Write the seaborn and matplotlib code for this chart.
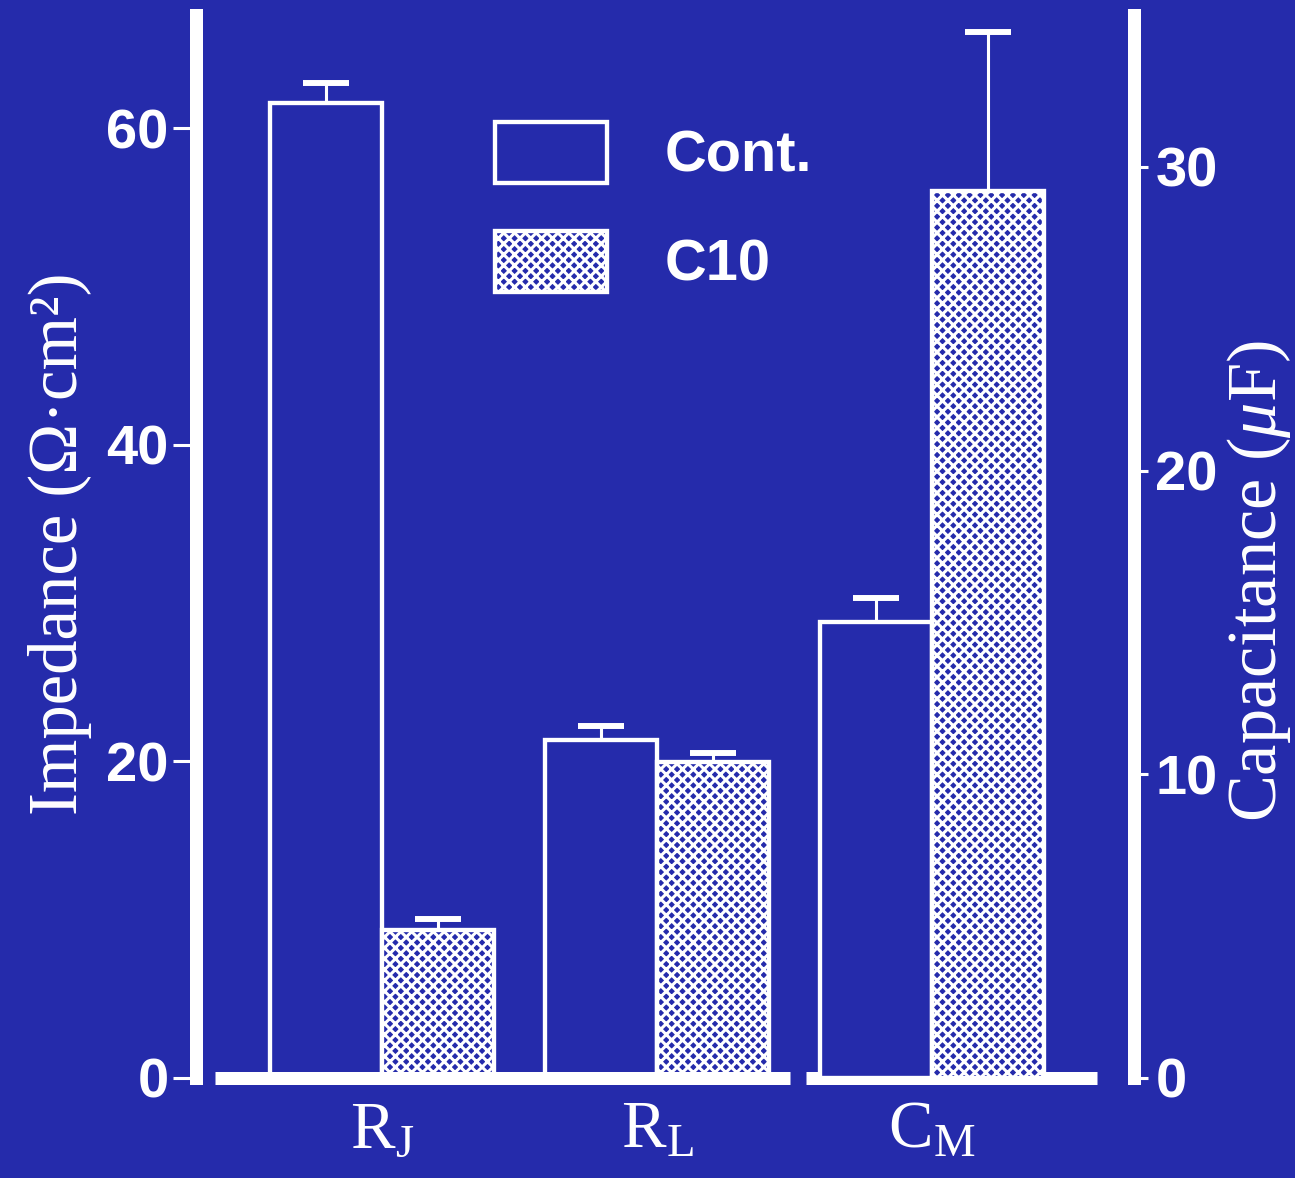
import numpy as np
import pandas as pd
import matplotlib
matplotlib.use("Agg")
import matplotlib.pyplot as plt
import matplotlib.patches as mpatches
import seaborn as sns

# ---- data -------------------------------------------------------------
parameters = ["RJ", "RL", "CM"]
parameter_labels = [r"$\mathrm{R_J}$", r"$\mathrm{R_L}$", r"$\mathrm{C_M}$"]
treatments = ["Cont.", "C10"]

# impedance (ohm*cm^2), left axis
impedance_params = ["RJ", "RL"]
impedance_cont = [61.6, 21.35]
impedance_cont_err = [1.25, 0.9]
impedance_c10 = [9.35, 19.95]
impedance_c10_err = [0.7, 0.6]

# capacitance (uF), right axis
capacitance_params = ["CM"]
capacitance_cont = [15.0]
capacitance_cont_err = [0.82]
capacitance_c10 = [29.2]
capacitance_c10_err = [5.25]

left_ticks = [0, 20, 40, 60]
right_ticks = [0, 10, 20, 30]

# ---- style ------------------------------------------------------------
BG = "#252bab"
FG = "white"
DPI = 130
C10_HATCH = "xxxx"

sns.set_theme(style="white")
plt.rcParams.update({
    "font.family": ["Liberation Sans", "DejaVu Sans"],
    "mathtext.fontset": "custom",
    "mathtext.rm": "Liberation Serif",
    "mathtext.it": "Liberation Serif:italic",
    "mathtext.bf": "Liberation Serif:bold",
    "hatch.linewidth": 1.7,
    "figure.facecolor": BG,
    "axes.facecolor": BG,
    "savefig.facecolor": BG,
    "text.color": FG,
    "axes.labelcolor": FG,
    "axes.edgecolor": FG,
    "xtick.color": FG,
    "ytick.color": FG,
})


def frame(params, cont, cont_err, c10, c10_err):
    return pd.DataFrame({
        "parameter": list(params) * 2,
        "treatment": ["Cont."] * len(params) + ["C10"] * len(params),
        "value": list(cont) + list(c10),
        "err": list(cont_err) + list(c10_err),
    })


imp_df = frame(impedance_params, impedance_cont, impedance_cont_err,
               impedance_c10, impedance_c10_err)
cap_df = frame(capacitance_params, capacitance_cont, capacitance_cont_err,
               capacitance_c10, capacitance_c10_err)

fig = plt.figure(figsize=(1295 / DPI, 1178 / DPI), dpi=DPI)
ax = fig.add_axes([196 / 1295, 100 / 1178, 938 / 1295, 1063 / 1178])
ax2 = ax.twinx()

BAR_LW = 2.4


def draw(axis, df):
    sns.barplot(data=df, x="parameter", y="value", hue="treatment",
                order=parameters, hue_order=treatments, width=0.815,
                palette=[BG, BG], saturation=1, errorbar=None, legend=False,
                edgecolor=FG, linewidth=BAR_LW, ax=axis)
    errs = {(p, t): e for p, t, e in zip(df["parameter"], df["treatment"], df["err"])}
    for bar in axis.patches:
        h = bar.get_height()
        if not np.isfinite(h) or h == 0:
            continue
        cx = bar.get_x() + bar.get_width() / 2
        idx = int(round(cx))
        treat = treatments[0] if cx < idx else treatments[1]
        if treat == "C10":
            bar.set_hatch(C10_HATCH)
        key = (parameters[idx], treat)
        if key not in errs:
            continue
        _, caps, _ = axis.errorbar([cx], [h], yerr=[[0], [errs[key]]], fmt="none",
                                   ecolor=FG, elinewidth=1.7, capsize=12.5,
                                   capthick=3.3, zorder=3)
        if len(caps) == 2:
            caps[0].set_visible(False)


draw(ax, imp_df)
draw(ax2, cap_df)

# ---- axes -------------------------------------------------------------
ax.set_xlim(-0.676, 2.735)
ax.set_ylim(0, 67.15)
ax2.set_ylim(0, 35.0)

for a in (ax, ax2):
    a.set_xlabel("")
    for s in ("top", "bottom"):
        a.spines[s].set_visible(False)
ax.spines["right"].set_visible(False)
ax2.spines["left"].set_visible(False)
ax.spines["left"].set_linewidth(7.2)
ax2.spines["right"].set_linewidth(7.2)

# thick broken baseline under the impedance and capacitance groups
baseline_spans = [(0 - 0.607, 1 + 0.484), (2 - 0.458, 2 + 0.6)]
for x0, x1 in baseline_spans:
    ax.hlines(0, x0, x1, color=FG, lw=7.2, clip_on=False, zorder=4)

ax.set_xticks(range(len(parameters)))
ax.set_xticklabels(parameter_labels)
ax.tick_params(axis="x", length=0, pad=12, labelsize=37, bottom=True)

ax.set_yticks(left_ticks)
ax.tick_params(axis="y", direction="out", length=12.7, width=1.7, pad=2.5,
               labelsize=31, left=True, right=False)
ax2.set_yticks(right_ticks)
ax2.tick_params(axis="y", direction="out", length=7.8, width=1.7, pad=4,
                labelsize=31, right=True, left=False)
for lbl in ax.get_yticklabels() + ax2.get_yticklabels():
    lbl.set_fontweight("bold")

ax.set_ylabel("Impedance (Ω·cm²)", family=["Liberation Serif", "DejaVu Serif"],
              fontsize=38)
ax.yaxis.set_label_coords(-0.111, 0.503)
ax2.set_ylabel(r"Capacitance ($\mu$F)", family=["Liberation Serif", "DejaVu Serif"],
               fontsize=39)
ax2.yaxis.set_label_coords(1.097, 0.467)

handles = [
    mpatches.Patch(facecolor=BG, edgecolor=FG, linewidth=BAR_LW, label="Cont."),
    mpatches.Patch(facecolor=BG, edgecolor=FG, linewidth=BAR_LW, hatch=C10_HATCH,
                   label="C10"),
]
ax2.legend(handles=handles, loc="upper left",
           bbox_to_anchor=(495 / 1295, 1 - 122 / 1178),
           bbox_transform=fig.transFigure, frameon=False, borderpad=0,
           borderaxespad=0, handlelength=1.94, handleheight=1.246,
           handletextpad=1.0, labelspacing=0.81, labelcolor=FG,
           prop=dict(family="Liberation Sans", weight="bold", size=32))

fig.savefig("out.png", dpi=DPI, facecolor=BG)
